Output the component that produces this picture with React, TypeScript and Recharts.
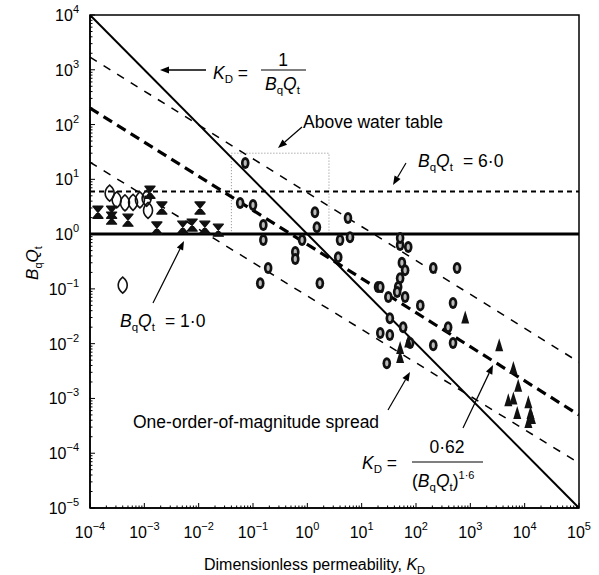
import React from "react";
import { ScatterChart, Scatter, XAxis, YAxis, ReferenceLine, ReferenceArea, Label } from "recharts";

const FONT = '"Liberation Sans", Arial, sans-serif';

// decade exponents for the tick labels
const xExponents = [-4, -3, -2, -1, 0, 1, 2, 3, 4, 5];
const yExponents = [-5, -4, -3, -2, -1, 0, 1, 2, 3, 4];
const minorSteps = [2, 3, 4, 5, 6, 7, 8, 9];

// guide lines, endpoints [K_D, BqQt]
const inverseLine = [[1e-4, 1e4], [1e5, 1e-5]];
const centreLine = [[1e-4, 200], [1e5, 5e-4]];
const upperLine = [[1e-4, 1700], [1e5, 4.6e-3]];
const lowerLine = [[1e-4, 20.5], [1e5, 6.6e-5]];

// measured points [K_D, BqQt]
const diamondPts = [
  [2.3e-4, 5.6], [3.1e-4, 4.2], [4.4e-4, 3.7], [6.2e-4, 3.8], [8.3e-4, 4.2],
  [1.1e-3, 4.5], [1.17e-3, 2.7], [4e-4, 0.117],
];
const hourglassPts = [
  [1.4e-4, 2.5], [2.5e-4, 2.5], [2.5e-4, 1.96], [5e-4, 1.8], [1.27e-3, 5.8],
  [2.1e-3, 3.0], [1.7e-3, 1.29], [1.06e-2, 3.0], [5.1e-3, 1.34], [7.6e-3, 1.46],
  [1.3e-2, 1.34], [2.3e-2, 1.18],
];
const ovalPts = [
  [0.072, 19.8], [0.058, 3.7], [0.1, 3.4], [0.155, 1.46], [0.155, 0.78],
  [1.38, 2.5], [1.5, 1.34], [5.6, 1.96], [4.0, 0.78], [6.1, 0.88], [3.7, 0.38],
  [0.19, 0.24], [0.136, 0.127], [1.7, 0.127], [0.6, 0.47], [0.6, 0.35], [0.8, 0.78],
  [20, 0.108], [51, 0.63], [72, 0.58], [51, 0.85], [55, 0.3], [63, 0.22], [51, 0.157],
  [47, 0.108], [22, 0.108], [31, 0.071], [63, 0.071], [45, 0.088], [208, 0.24],
  [570, 0.24], [120, 0.05], [480, 0.055], [33, 0.029], [22, 0.0156], [33, 0.0144],
  [58, 0.02], [78, 0.0103], [208, 0.0094], [480, 0.0103], [390, 0.02], [29, 0.0044],
];
const trianglePts = [
  [51, 0.0083], [51, 0.0057], [72, 0.011], [805, 0.03], [3400, 0.0094], [6200, 0.0036],
  [7600, 0.0017], [5000, 9.3e-4], [6200, 1.0e-3], [7300, 5.4e-4], [11700, 8.5e-4],
  [12800, 5.4e-4], [11700, 3.7e-4], [13600, 4.4e-4],
];

const toRows = (pts: number[][]) => pts.map(([x, y]) => ({ x, y }));

const decadeTicks = (exps: number[]) => {
  const out: number[] = [];
  exps.forEach((e, i) => {
    out.push(Math.pow(10, e));
    if (i < exps.length - 1) minorSteps.forEach((m) => out.push(m * Math.pow(10, e)));
  });
  return out;
};
const xTicks = decadeTicks(xExponents);
const yTicks = decadeTicks(yExponents);

const isMajor = (v: number) => Math.abs(Math.log10(v) - Math.round(Math.log10(v))) < 1e-6;
const expText = (v: number) => {
  const e = Math.round(Math.log10(v));
  return e < 0 ? "\u2212" + Math.abs(e) : String(e);
};

function XTick({ x, y, payload }: any) {
  const major = isMajor(payload.value);
  return (
    <g>
      <line x1={x} x2={x} y1={y} y2={y - (major ? 5 : 2.5)} stroke="#000" />
      {major && (
        <text x={x} y={y + 30} textAnchor="middle" fontSize={16} fontFamily={FONT} fill="#000">
          <tspan>10</tspan>
          <tspan dy={-8} fontSize={11}>{expText(payload.value)}</tspan>
        </text>
      )}
    </g>
  );
}

function YTick({ x, y, payload }: any) {
  const major = isMajor(payload.value);
  return (
    <g>
      <line x1={x} x2={x + (major ? 5 : 2.5)} y1={y} y2={y} stroke="#000" />
      {major && (
        <text x={x - 11} y={y + 6} textAnchor="end" fontSize={16} fontFamily={FONT} fill="#000">
          <tspan>10</tspan>
          <tspan dy={-8} fontSize={11}>{expText(payload.value)}</tspan>
        </text>
      )}
    </g>
  );
}

const XTitle = ({ viewBox }: any) => (
  <text x={viewBox.x + viewBox.width / 2 - 20} y={viewBox.y + 62} textAnchor="middle" fontSize={16} fontFamily={FONT}>
    Dimensionless permeability, <tspan fontStyle="italic">K</tspan>
    <tspan dy={4} fontSize={11}>D</tspan>
  </text>
);

const YTitle = () => (
  <text x={0} y={0} transform="translate(38,263) rotate(-90)" textAnchor="middle" fontSize={17} fontFamily={FONT}>
    <tspan fontStyle="italic">B</tspan>
    <tspan dy={4} fontSize={11}>q</tspan>
    <tspan dy={-4} fontStyle="italic">Q</tspan>
    <tspan dy={4} fontSize={11}>t</tspan>
  </text>
);

const noDot = () => <g />;

const Diamond = ({ cx, cy }: any) => (
  <path
    d={`M${cx},${cy - 8} C${cx + 6},${cy - 3} ${cx + 6},${cy + 3} ${cx},${cy + 8} C${cx - 6},${cy + 3} ${cx - 6},${cy - 3} ${cx},${cy - 8}Z`}
    fill="none" stroke="#111" strokeWidth={1.6}
  />
);
const Hourglass = ({ cx, cy }: any) => (
  <path d={`M${cx - 5},${cy - 6} H${cx + 5} L${cx - 5},${cy + 6} H${cx + 5} Z`} fill="#111" stroke="#111" strokeWidth={1.4} strokeLinejoin="round" />
);
const Oval = ({ cx, cy }: any) => (
  <g>
    <ellipse cx={cx} cy={cy} rx={4.3} ry={6} fill="#111" />
    <ellipse cx={cx} cy={cy} rx={1.6} ry={3} fill="#bbb" />
  </g>
);
const Triangle = ({ cx, cy }: any) => (
  <path d={`M${cx},${cy - 7} L${cx + 4},${cy + 6} L${cx - 4},${cy + 6} Z`} fill="#111" />
);

function Arrow({ x1, y1, x2, y2, w = 1.4 }: any) {
  const a = Math.atan2(y2 - y1, x2 - x1);
  const L = 9, H = 3.5;
  const bx = x2 - L * Math.cos(a), by = y2 - L * Math.sin(a);
  const px = -Math.sin(a) * H, py = Math.cos(a) * H;
  return (
    <g>
      <line x1={x1} y1={y1} x2={bx} y2={by} stroke="#000" strokeWidth={w} />
      <path d={`M${x2},${y2} L${bx + px},${by + py} L${bx - px},${by - py} Z`} fill="#000" />
    </g>
  );
}

const FS = 17.5;

const BQ = ({ x, y }: any) => (
  <text x={x} y={y} fontSize={FS} fontFamily={FONT}>
    <tspan fontStyle="italic">B</tspan>
    <tspan dy={4} fontSize={11.5}>q</tspan>
    <tspan dy={-4} fontStyle="italic">Q</tspan>
    <tspan dy={4} fontSize={11.5}>t</tspan>
  </text>
);

function Annotations() {
  return (
    <svg width={599} height={575} style={{ position: "absolute", left: 0, top: 0, pointerEvents: "none" }}>
      {/* K_D = 1 / BqQt */}
      <Arrow x1={206} y1={70} x2={160} y2={70} />
      <text x={213} y={79} fontSize={FS} fontFamily={FONT}>
        <tspan fontStyle="italic">K</tspan>
        <tspan dy={4} fontSize={11.5}>D</tspan>
        <tspan dy={-4}> =</tspan>
      </text>
      <text x={283} y={66} textAnchor="middle" fontSize={FS} fontFamily={FONT}>1</text>
      <line x1={261} x2={306} y1={70} y2={70} stroke="#000" strokeWidth={1.2} />
      <BQ x={265} y={90} />

      {/* Above water table */}
      <Arrow x1={302} y1={127} x2={278} y2={148} w={1.2} />
      <text x={303} y={128} fontSize={FS} fontFamily={FONT}>Above water table</text>

      {/* BqQt = 6.0 */}
      <Arrow x1={406} y1={163} x2={393} y2={185} w={1.2} />
      <BQ x={418} y={167} />
      <text x={463} y={167} fontSize={FS} fontFamily={FONT}>= 6·0</text>

      {/* BqQt = 1.0 */}
      <Arrow x1={153} y1={303} x2={184} y2={241} w={1.2} />
      <BQ x={120} y={327} />
      <text x={165} y={327} fontSize={FS} fontFamily={FONT}>= 1·0</text>

      {/* spread */}
      <Arrow x1={388} y1={410} x2={410} y2={372} w={1.2} />
      <text x={133} y={428} fontSize={FS} fontFamily={FONT}>One-order-of-magnitude spread</text>

      {/* K_D = 0.62 / (BqQt)^1.6 */}
      <Arrow x1={463} y1={428} x2={493} y2={365} w={1.2} />
      <text x={362} y={469} fontSize={FS} fontFamily={FONT}>
        <tspan fontStyle="italic">K</tspan>
        <tspan dy={4} fontSize={11.5}>D</tspan>
        <tspan dy={-4}> =</tspan>
      </text>
      <text x={447} y={453} textAnchor="middle" fontSize={FS} fontFamily={FONT}>0·62</text>
      <line x1={412} x2={483} y1={462} y2={462} stroke="#000" strokeWidth={1.2} />
      <text x={412} y={487} fontSize={FS} fontFamily={FONT}>
        (<tspan fontStyle="italic">B</tspan>
        <tspan dy={4} fontSize={11.5}>q</tspan>
        <tspan dy={-4} fontStyle="italic">Q</tspan>
        <tspan dy={4} fontSize={11.5}>t</tspan>
        <tspan dy={-4}>)</tspan>
        <tspan dy={-8} fontSize={11}>1·6</tspan>
      </text>
    </svg>
  );
}

export default function App() {
  return (
    <div style={{ position: "absolute", left: 0, top: 0, width: 599, height: 575, background: "#fff" }}>
      <ScatterChart width={599} height={575} margin={{ top: 15, right: 20, bottom: 0, left: 0 }}>
        <XAxis
          type="number" dataKey="x" scale="log" domain={[1e-4, 1e5]} allowDataOverflow
          ticks={xTicks} interval={0} tick={<XTick />} tickLine={false} tickSize={0} tickMargin={0}
          height={67} axisLine={{ stroke: "#000", strokeWidth: 1.5 }}
        >
          <Label content={<XTitle />} />
        </XAxis>
        <YAxis
          type="number" dataKey="y" scale="log" domain={[1e-5, 1e4]} allowDataOverflow
          ticks={yTicks} interval={0} tick={<YTick />} tickLine={false} tickSize={0} tickMargin={0}
          width={90} axisLine={{ stroke: "#000", strokeWidth: 1.5 }}
        >
          <Label content={<YTitle />} />
        </YAxis>
        <ReferenceArea x1={1e-4} x2={1e5} y1={1e-5} y2={1e4} fill="none" stroke="#000" strokeWidth={1.5} />
        <ReferenceArea x1={0.04} x2={2.5} y1={1} y2={30} fill="none" stroke="#888" strokeWidth={1} strokeDasharray="1 2" />
        <ReferenceLine y={6} stroke="#000" strokeWidth={2} strokeDasharray="5 4" />
        <ReferenceLine y={1} stroke="#000" strokeWidth={3} />
        <Scatter data={toRows(upperLine)} line={{ stroke: "#000", strokeWidth: 1.5, strokeDasharray: "8 8" }} shape={noDot} isAnimationActive={false} />
        <Scatter data={toRows(lowerLine)} line={{ stroke: "#000", strokeWidth: 1.5, strokeDasharray: "8 8" }} shape={noDot} isAnimationActive={false} />
        <Scatter data={toRows(centreLine)} line={{ stroke: "#000", strokeWidth: 3.2, strokeDasharray: "10 6" }} shape={noDot} isAnimationActive={false} />
        <Scatter data={toRows(inverseLine)} line={{ stroke: "#000", strokeWidth: 2 }} shape={noDot} isAnimationActive={false} />
        <Scatter data={toRows(diamondPts)} shape={<Diamond />} isAnimationActive={false} />
        <Scatter data={toRows(hourglassPts)} shape={<Hourglass />} isAnimationActive={false} />
        <Scatter data={toRows(ovalPts)} shape={<Oval />} isAnimationActive={false} />
        <Scatter data={toRows(trianglePts)} shape={<Triangle />} isAnimationActive={false} />
      </ScatterChart>
      <Annotations />
    </div>
  );
}
